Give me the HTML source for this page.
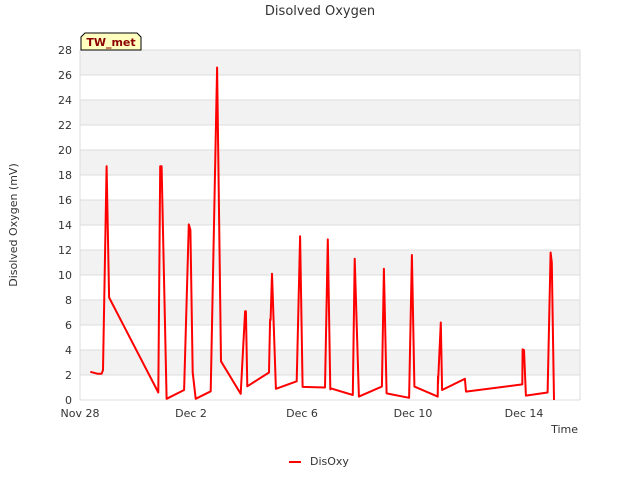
<!DOCTYPE html>
<html><head><meta charset="utf-8"><style>
body{margin:0;background:#fff;font-family:"Liberation Sans","DejaVu Sans",sans-serif;}
svg text{font-family:"DejaVu Sans","Liberation Sans",sans-serif;}
</style></head><body>
<svg id="chart" width="640" height="480" xmlns="http://www.w3.org/2000/svg">
<g id="bands"></g>
<g id="grid"></g>
<g id="ticks"></g>
<path id="series" fill="none" stroke="#ff0000" stroke-width="2" stroke-linejoin="round"/>
<text x="320" y="15" text-anchor="middle" font-size="13" fill="#333">Disolved Oxygen</text>
<text transform="translate(17,225) rotate(-90)" text-anchor="middle" font-size="11" fill="#333">Disolved Oxygen (mV)</text>
<text x="578" y="433" text-anchor="end" font-size="11" fill="#333">Time</text>
<g>
<path d="M81,50 L81,37 L85,33 L137,33 L141,37 L141,50 Z" fill="#ffffc0" stroke="#000" stroke-width="1"/>
<text x="111" y="46" text-anchor="middle" font-size="11" font-weight="bold" fill="#8b0000">TW_met</text>
</g>
<g>
<line x1="289" y1="462" x2="301" y2="462" stroke="#ff0000" stroke-width="2"/>
<text x="310" y="465" font-size="11" fill="#333">DisOxy</text>
</g>
</svg>
<script>
const days=[0.37,0.64,0.78,0.83,0.96,1.05,2.82,2.89,2.94,3.12,3.75,3.92,3.98,4.06,4.17,4.71,4.94,5.08,5.79,5.95,5.98,6.03,6.81,6.85,6.87,6.92,7.06,7.81,7.93,8.02,8.83,8.93,9.02,9.05,9.83,9.9,10.05,10.88,10.95,11.05,11.86,11.96,12.05,12.89,12.9,12.9,13.0,13.05,13.87,13.91,15.94,15.95,16.0,16.07,16.85,16.96,17.0,17.08];
const values=[2.26,2.1,2.1,2.4,18.7,8.2,0.6,18.7,18.7,0.1,0.8,14.05,13.6,2.2,0.1,0.7,26.6,3.1,0.5,7.1,7.1,1.1,2.2,6.45,6.4,10.1,0.9,1.5,13.1,1.05,1.0,12.85,0.85,0.93,0.4,11.3,0.27,1.07,10.5,0.53,0.18,11.6,1.07,0.27,1.9,1.3,6.2,0.8,1.7,0.67,1.25,4.05,4.0,0.35,0.6,11.8,11.0,0];
const yTicks=[0,2,4,6,8,10,12,14,16,18,20,22,24,26,28];
const xTickDays=[0,4,8,12,16];
const xTickLabels=["Nov 28","Dec 2","Dec 6","Dec 10","Dec 14"];
const X0=80,X1=580,Y0=400,Y1=50;
const xs=d=>X0+d*27.75;
const ys=v=>Y0-(v/28)*(Y0-Y1);
const NS="http://www.w3.org/2000/svg";
const bands=document.getElementById('bands'),grid=document.getElementById('grid'),ticks=document.getElementById('ticks');
for(let i=0;i<yTicks.length-1;i++){
 if(i%2===1){const r=document.createElementNS(NS,'rect');
 
 
 r.setAttribute('x',X0);r.setAttribute('y',ys(yTicks[i+1]));r.setAttribute('width',X1-X0);r.setAttribute('height',ys(yTicks[i])-ys(yTicks[i+1]));r.setAttribute('fill','#f2f2f2');bands.appendChild(r);}
}
yTicks.forEach(t=>{
 const l=document.createElementNS(NS,'line');
 
 
 l.setAttribute('x1',X0);l.setAttribute('x2',X1);l.setAttribute('y1',ys(t));l.setAttribute('y2',ys(t));l.setAttribute('stroke','#dcdcdc');grid.appendChild(l);
 const tx=document.createElementNS(NS,'text');
 
 
 tx.setAttribute('x',X0-8);tx.setAttribute('y',ys(t)+4);tx.setAttribute('text-anchor','end');tx.setAttribute('font-size','11');tx.setAttribute('fill','#333');tx.textContent=t;ticks.appendChild(tx);
});
[X0,X1].forEach(x=>{const l=document.createElementNS(NS,'line');
 
 
 l.setAttribute('x1',x);l.setAttribute('x2',x);l.setAttribute('y1',Y1);l.setAttribute('y2',Y0);l.setAttribute('stroke','#dcdcdc');grid.appendChild(l);});
xTickDays.forEach((d,i)=>{
 const tx=document.createElementNS(NS,'text');
 
 
 tx.setAttribute('x',xs(d));tx.setAttribute('y',Y0+17);tx.setAttribute('text-anchor','middle');tx.setAttribute('font-size','11');tx.setAttribute('fill','#333');tx.textContent=xTickLabels[i];ticks.appendChild(tx);
});
document.getElementById('series').setAttribute('d',days.map((d,i)=>(i?'L':'M')+xs(d).toFixed(1)+','+ys(values[i]).toFixed(1)).join(' '));
</script>
</body></html>
